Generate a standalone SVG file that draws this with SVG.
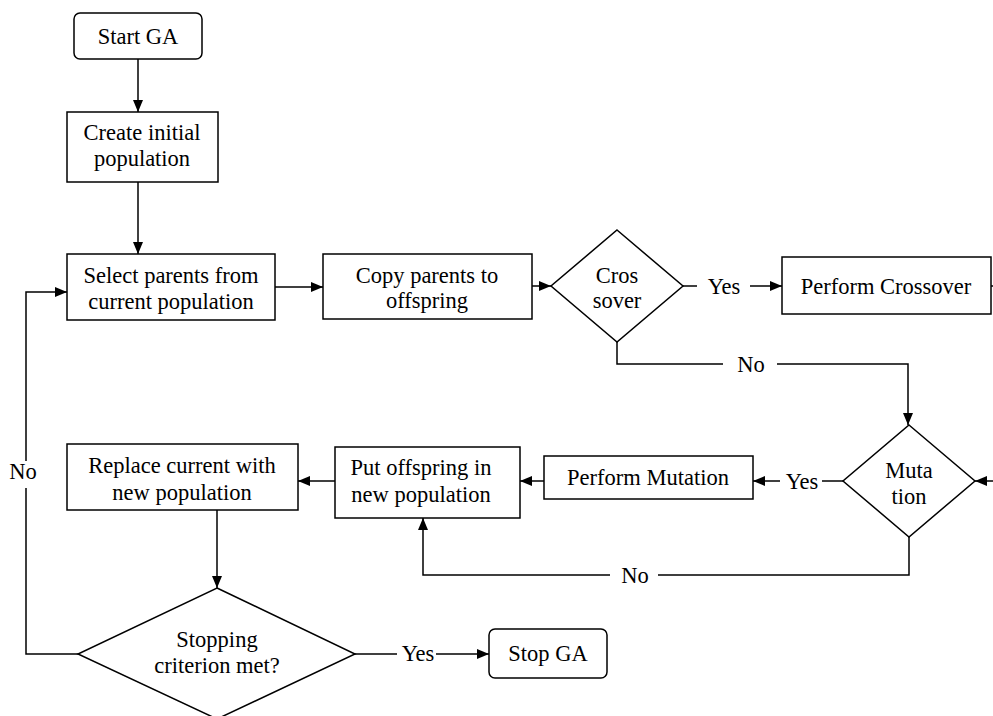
<svg xmlns="http://www.w3.org/2000/svg" width="993" height="716" viewBox="0 0 993 716">
<defs>
<marker id="arr" markerUnits="userSpaceOnUse" markerWidth="12" markerHeight="10" refX="12" refY="5" orient="auto">
<path d="M0,0 L12,5 L0,10 z" fill="#000"/>
</marker>
<style>
.n{fill:#fff;stroke:#000;stroke-width:1.5}
.t{font-family:"Liberation Serif","Times New Roman",serif;font-size:22.5px;fill:#000;text-anchor:middle}
.c{fill:none;stroke:#000;stroke-width:1.5}
.a{marker-end:url(#arr)}
</style>
</defs>
<rect width="993" height="716" fill="#fff"/>
<g id="connectors">
<path class="c a" d="M138,59 V112"/>
<path class="c a" d="M138,182 V254"/>
<path class="c a" d="M275,287 H323"/>
<path class="c a" d="M532,286 H551"/>
<path class="c" d="M683,286 H697"/>
<text class="t" x="724" y="294">Yes</text>
<path class="c a" d="M750,286 H782"/>
<path class="c" d="M991,286 H993"/>
<path class="c" d="M617,342 V364 H723"/>
<text class="t" x="751" y="372">No</text>
<path class="c a" d="M777,364 H908 V425"/>
<path class="c a" d="M993,481 H975"/>
<path class="c" d="M843,481 H822"/>
<text class="t" x="802" y="489">Yes</text>
<path class="c a" d="M780,481 H753"/>
<path class="c a" d="M544,481 H520"/>
<path class="c" d="M909,537 V575 H658"/>
<text class="t" x="635" y="583">No</text>
<path class="c a" d="M610,575 H423 V518"/>
<path class="c a" d="M335,481 H298"/>
<path class="c a" d="M217,510 V588"/>
<path class="c" d="M355,654 H397"/>
<text class="t" x="418" y="661">Yes</text>
<path class="c a" d="M436,654 H489"/>
<path class="c" d="M78,654 H26 V488"/>
<text class="t" x="23" y="479">No</text>
<path class="c a" d="M26,461 V292 H67"/>
</g>
<g id="start">
<rect class="n" x="74" y="13" width="128" height="46" rx="6"/>
<text class="t" x="138" y="44">Start GA</text>
</g>
<g id="create">
<rect class="n" x="67" y="112" width="151" height="70"/>
<text class="t" x="142" y="140">Create initial</text>
<text class="t" x="142" y="166">population</text>
</g>
<g id="select">
<rect class="n" x="67" y="254" width="208" height="66"/>
<text class="t" x="171" y="283">Select parents from</text>
<text class="t" x="171" y="309">current population</text>
</g>
<g id="copy">
<rect class="n" x="323" y="254" width="209" height="65"/>
<text class="t" x="427" y="283">Copy parents to</text>
<text class="t" x="427" y="308">offspring</text>
</g>
<g id="crossover">
<polygon class="n" points="617,230 683,286 617,342 551,286"/>
<text class="t" x="617" y="283">Cros</text>
<text class="t" x="617" y="308">sover</text>
</g>
<g id="perform-crossover">
<rect class="n" x="782" y="257" width="209" height="57"/>
<text class="t" x="886" y="294">Perform Crossover</text>
</g>
<g id="mutation">
<polygon class="n" points="909,425 975,481 909,537 843,481"/>
<text class="t" x="909" y="478">Muta</text>
<text class="t" x="909" y="504">tion</text>
</g>
<g id="perform-mutation">
<rect class="n" x="544" y="456" width="209" height="43"/>
<text class="t" x="648" y="485">Perform Mutation</text>
</g>
<g id="put-offspring">
<rect class="n" x="335" y="447" width="185" height="71"/>
<text class="t" x="421" y="475">Put offspring in</text>
<text class="t" x="421" y="502">new population</text>
</g>
<g id="replace">
<rect class="n" x="67" y="444" width="231" height="66"/>
<text class="t" x="182" y="473">Replace current with</text>
<text class="t" x="182" y="500">new population</text>
</g>
<g id="stopping">
<polygon class="n" points="217,588 355,654 217,719 78,654"/>
<text class="t" x="217" y="647">Stopping</text>
<text class="t" x="217" y="673">criterion met?</text>
</g>
<g id="stop">
<rect class="n" x="489" y="629" width="118" height="49" rx="6"/>
<text class="t" x="548" y="661">Stop GA</text>
</g>
</svg>
